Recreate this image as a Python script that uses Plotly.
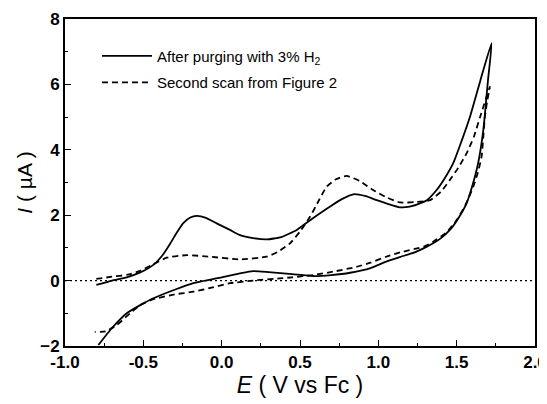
import plotly.graph_objects as go

# Solid: after purging with 3% H2 (forward then reverse sweep)
solid_E = [-0.80, -0.70, -0.606, -0.52, -0.436, -0.38, -0.33, -0.285, -0.245, -0.20, -0.16, -0.10, -0.032,
           0.053, 0.117, 0.20, 0.287, 0.38, 0.479, 0.58, 0.69, 0.77, 0.84, 0.92, 0.99, 1.07, 1.138, 1.20,
           1.265, 1.31, 1.372, 1.42, 1.478, 1.53, 1.585, 1.65, 1.723,
           1.70, 1.67, 1.637, 1.60, 1.563, 1.51, 1.457, 1.40, 1.35, 1.31, 1.24, 1.138, 1.05, 0.95, 0.82,
           0.70, 0.585, 0.45, 0.30, 0.20, 0.117, 0.0, -0.18, -0.30, -0.436, -0.52, -0.606, -0.70, -0.787]
solid_I = [-0.13, 0.0, 0.10, 0.25, 0.48, 0.76, 1.12, 1.48, 1.76, 1.93, 1.98, 1.92, 1.75,
           1.55, 1.39, 1.30, 1.26, 1.33, 1.55, 1.90, 2.26, 2.50, 2.64, 2.58, 2.46, 2.33, 2.24, 2.26,
           2.36, 2.46, 2.77, 3.10, 3.59, 4.25, 5.01, 6.10, 7.26,
           6.13, 4.60, 3.59, 2.90, 2.36, 1.90, 1.55, 1.30, 1.14, 1.04, 0.88, 0.72, 0.58, 0.38, 0.24,
           0.17, 0.14, 0.20, 0.26, 0.29, 0.22, 0.10, -0.08, -0.28, -0.54, -0.75, -1.00, -1.45, -1.97]

# Dashed: second scan from Figure 2
dash_E = [-0.80, -0.70, -0.60, -0.52, -0.436, -0.35, -0.22, -0.075, 0.117, 0.287, 0.36, 0.436, 0.50,
          0.564, 0.62, 0.67, 0.73, 0.798, 0.88, 0.967, 1.05, 1.138, 1.23, 1.33, 1.40, 1.457, 1.51, 1.563,
          1.61, 1.65, 1.712,
          1.695, 1.68, 1.659, 1.635, 1.606, 1.555, 1.50, 1.43, 1.35, 1.29, 1.138, 1.05, 0.95, 0.86, 0.72,
          0.585, 0.45, 0.372, 0.20, 0.053, -0.05, -0.18, -0.30, -0.436, -0.52, -0.585, -0.67, -0.74, -0.81]
dash_I = [0.05, 0.12, 0.18, 0.30, 0.50, 0.70, 0.78, 0.73, 0.65, 0.73, 0.88, 1.14, 1.50,
          1.95, 2.45, 2.87, 3.10, 3.20, 3.05, 2.77, 2.55, 2.39, 2.40, 2.46, 2.72, 3.08, 3.45, 3.89,
          4.40, 5.01, 5.93,
          5.50, 5.00, 3.79, 3.30, 2.87, 2.30, 1.85, 1.45, 1.19, 1.04, 0.86, 0.73, 0.55, 0.42, 0.28,
          0.17, 0.10, 0.07, 0.00, -0.08, -0.20, -0.34, -0.42, -0.57, -0.75, -1.00, -1.36, -1.55, -1.57]

x_ticks = [-1.0, -0.5, 0.0, 0.5, 1.0, 1.5, 2.0]
x_ticklabels = ["-1.0", "-0.5", "0.0", "0.5", "1.0", "1.5", "2.0"]
y_ticks = [-2, 0, 2, 4, 6, 8]

fig = go.Figure()
fig.add_trace(go.Scatter(x=solid_E, y=solid_I, mode="lines", name="After purging with 3% H<sub>2</sub>",
                         line=dict(color="black", width=1.8, shape="spline", smoothing=0.5),
                         legendgroup="a"))
fig.add_trace(go.Scatter(x=dash_E, y=dash_I, mode="lines", name="Second scan from Figure 2",
                         line=dict(color="black", width=1.8, dash="6px,4px", shape="spline", smoothing=0.5),
                         legendgroup="b"))
fig.add_hline(y=0, line=dict(color="black", width=1.4, dash="2px,3px"))

font_family = "Liberation Sans, Arial, sans-serif"
axis_common = dict(showline=True, linecolor="black", linewidth=1.8, mirror=True, ticks="inside",
                   ticklen=6, tickwidth=1.3, tickcolor="black", showgrid=False, zeroline=False,
                   automargin=False,
                   tickfont=dict(family=font_family, size=17, color="black", weight="bold"))
fig.update_xaxes(range=[-1.0, 2.0], tickvals=x_ticks, ticktext=x_ticklabels,
                 minor=dict(dtick=0.25, ticks="inside", ticklen=3, tickcolor="black"),
                 title=dict(text="<i>E</i> ( V vs Fc )",
                            font=dict(family=font_family, size=23, color="black"),
                            standoff=4),
                 **axis_common)
fig.update_yaxes(range=[-2, 8], tickvals=y_ticks,
                 minor=dict(dtick=1, ticks="inside", ticklen=3, tickcolor="black"),
                 title=dict(text="<i>I</i> ( µA )", font=dict(family=font_family, size=21, color="black"),
                            standoff=2),
                 **axis_common)
fig.update_layout(width=547, height=404, margin=dict(l=57, r=20, t=11, b=66),
                  paper_bgcolor="white", plot_bgcolor="white",
                  legend=dict(x=0.068, y=0.937, xanchor="left", yanchor="top", bgcolor="rgba(0,0,0,0)",
                              font=dict(family=font_family, size=15, color="black"),
                              tracegroupgap=4, itemwidth=50, traceorder="grouped"),
                  showlegend=True)
fig.write_html("out.html")
